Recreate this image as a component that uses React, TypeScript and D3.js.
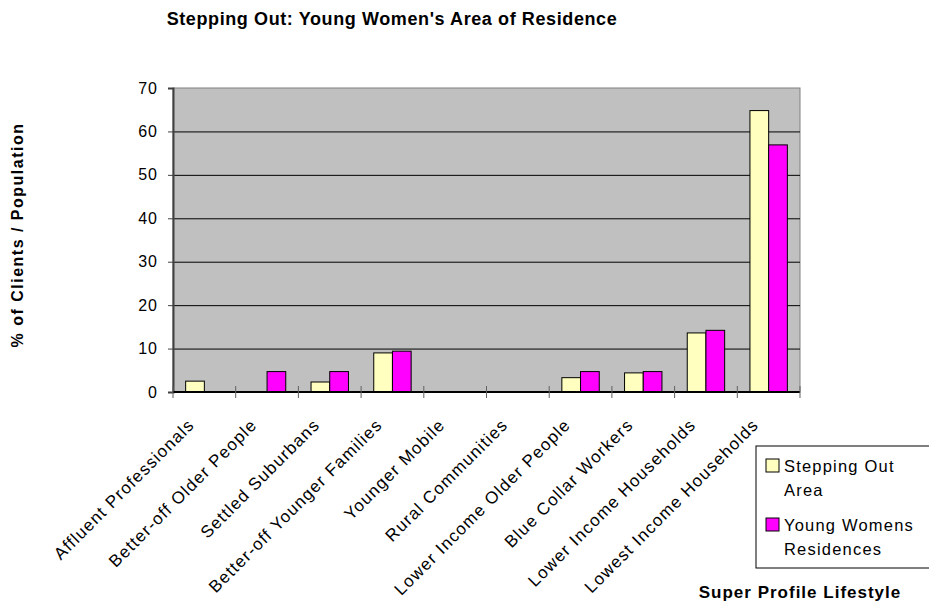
import React, { useEffect, useRef } from 'react';
import * as d3 from 'd3';

// chart data
const categories = [
  'Affluent Professionals',
  'Better-off Older People',
  'Settled Suburbans',
  'Better-off Younger Families',
  'Younger Mobile',
  'Rural Communities',
  'Lower Income Older People',
  'Blue Collar Workers',
  'Lower Income Households',
  'Lowest Income Households',
];
const steppingOut = [2.5, 0, 2.3, 9.0, 0, 0, 3.3, 4.4, 13.6, 64.8];
const youngWomens = [0, 4.7, 4.7, 9.4, 0, 0, 4.7, 4.7, 14.2, 56.9];
const seriesNames = ['Stepping Out Area', 'Young Womens Residences'];
const legendLines = [['Stepping Out', 'Area'], ['Young Womens', 'Residences']];
const yTicks = [0, 10, 20, 30, 40, 50, 60, 70];

const W = 929;
const H = 606;
const font = 'Arial, "Liberation Sans", sans-serif';

function App() {
  const ref = useRef<SVGSVGElement>(null);

  useEffect(() => {
    const svg = d3.select(ref.current);
    svg.selectAll('*').remove();

    const left = 173, right = 800, top = 88, bottom = 392;

    const x = d3.scaleBand().domain(categories).range([left, right]);
    const inner = d3.scaleBand().domain(seriesNames).range([0, 37.4]);
    const y = d3.scaleLinear().domain([0, 70]).range([bottom, top]);
    const color = d3.scaleOrdinal<string>().domain(seriesNames).range(['#FFFFC0', '#FF00FF']);

    // plot area
    svg.append('rect')
      .attr('x', left).attr('y', top)
      .attr('width', right - left).attr('height', bottom - top)
      .attr('fill', '#C0C0C0')
      .attr('stroke', '#808080');

    // gridlines
    svg.append('g')
      .selectAll('line')
      .data(yTicks.slice(1, -1))
      .enter()
      .append('line')
      .attr('x1', left).attr('x2', right)
      .attr('y1', d => y(d) + 0.5).attr('y2', d => y(d) + 0.5)
      .attr('stroke', '#000')
      .attr('stroke-width', 1);

    // bars
    const rows = categories.map((c, i) => ({ c, vals: [steppingOut[i], youngWomens[i]] }));
    const groups = svg.append('g')
      .selectAll('g')
      .data(rows)
      .enter()
      .append('g')
      .attr('transform', d => `translate(${x(d.c)! + (x.bandwidth() - 37.4) / 2},0)`);
    groups.selectAll('rect')
      .data(d => d.vals.map((v, j) => ({ v, s: seriesNames[j] })).filter(e => e.v > 0))
      .enter()
      .append('rect')
      .attr('x', d => inner(d.s)!)
      .attr('y', d => y(d.v))
      .attr('width', inner.bandwidth())
      .attr('height', d => y(0) - y(d.v))
      .attr('fill', d => color(d.s))
      .attr('stroke', '#000')
      .attr('stroke-width', 1);

    // y axis
    const yAxis = svg.append('g')
      .attr('transform', `translate(${left},0)`)
      .call(d3.axisLeft(y).tickValues(yTicks).tickSize(5).tickPadding(10));
    yAxis.select('.domain').attr('stroke', '#404040').attr('stroke-width', 2);
    yAxis.selectAll('.tick line').attr('stroke', '#404040');
    yAxis.selectAll('text')
      .style('font-family', font).style('font-size', '16px')
      .style('letter-spacing', '1px').attr('fill', '#000');

    // x axis
    const xAxis = svg.append('g').attr('transform', `translate(0,${bottom})`);
    xAxis.append('line')
      .attr('x1', left).attr('x2', right)
      .attr('y1', 0).attr('y2', 0)
      .attr('stroke', '#000').attr('stroke-width', 2);
    const edges = categories.map(c => x(c)!).concat([right]);
    xAxis.selectAll('.tk')
      .data(edges)
      .enter()
      .append('line')
      .attr('x1', d => d).attr('x2', d => d)
      .attr('y1', -6).attr('y2', 6)
      .attr('stroke', '#606060');
    xAxis.selectAll('.lbl')
      .data(categories)
      .enter()
      .append('text')
      .attr('text-anchor', 'end')
      .attr('transform', d => `translate(${x(d)! + x.bandwidth() / 2 - 9},${34}) rotate(-45)`)
      .style('font-family', font)
      .style('font-size', '17px')
      .style('letter-spacing', '1.2px')
      .text(d => d);

    // title
    svg.append('text')
      .attr('x', 392).attr('y', 25)
      .attr('text-anchor', 'middle')
      .style('font-family', font).style('font-size', '18px').style('font-weight', 'bold')
      .style('letter-spacing', '0.6px')
      .text("Stepping Out: Young Women's Area of Residence");

    // y label
    svg.append('text')
      .attr('transform', 'translate(23,235) rotate(-90)')
      .attr('text-anchor', 'middle')
      .style('font-family', font).style('font-size', '16px').style('font-weight', 'bold')
      .style('letter-spacing', '1.5px')
      .text('% of Clients / Population');

    // x label
    svg.append('text')
      .attr('x', 800).attr('y', 598)
      .attr('text-anchor', 'middle')
      .style('font-family', font).style('font-size', '17px').style('font-weight', 'bold')
      .style('letter-spacing', '1px')
      .text('Super Profile Lifestyle');

    // legend
    const lg = svg.append('g');
    lg.append('rect')
      .attr('x', 756).attr('y', 446)
      .attr('width', 190).attr('height', 122)
      .attr('fill', '#fff').attr('stroke', '#000');
    seriesNames.forEach((s, i) => {
      const y0 = 459 + i * 59;
      lg.append('rect')
        .attr('x', 766).attr('y', y0)
        .attr('width', 13).attr('height', 13)
        .attr('fill', color(s)).attr('stroke', '#000');
      legendLines[i].forEach((t, k) => {
        lg.append('text')
          .attr('x', 784).attr('y', y0 + 13 + k * 24)
          .style('font-family', font).style('font-size', '16.5px')
          .style('letter-spacing', '1.2px')
          .text(t);
      });
    });
  }, []);

  return (
    <svg
      ref={ref}
      width={W}
      height={H}
      style={{ position: 'absolute', left: 0, top: 0, background: '#fff' }}
    />
  );
}

export default App;
